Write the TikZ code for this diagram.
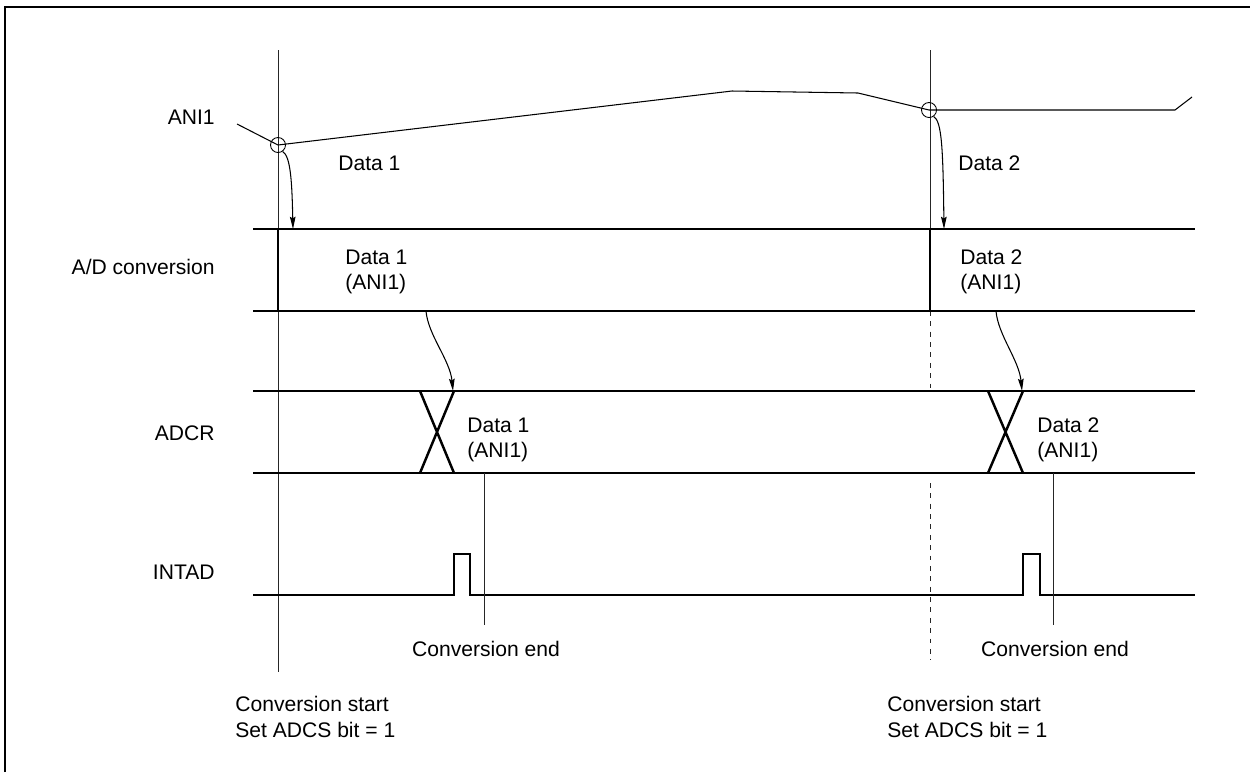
\documentclass[tikz,border=0pt]{standalone}
\usepackage{fontspec}
\setmainfont{Liberation Sans}
\usetikzlibrary{arrows.meta, positioning}

\begin{document}
\begin{tikzpicture}[x=0.02cm, y=-0.02cm,
    lbl/.style={anchor=base east, inner sep=0pt, font=\fontsize{12}{14.5}\selectfont},
    txt/.style={anchor=west, align=left, inner sep=0pt, font=\fontsize{12}{14.5}\selectfont},
    bus/.style={line width=1.4pt},
    guide/.style={line width=0.5pt, black!85},
    smp/.style={circle, draw, line width=0.5pt, minimum size=0.3cm, inner sep=0pt},
    flow/.style={line width=0.6pt, -{Stealth[length=7pt, width=3.2pt, inset=1pt]}}
]
  \useasboundingbox (0,0) rectangle (1250,772);
  \draw[line width=1.1pt] (5,772) -- (5,7) -- (1250,7);

  % signal names
  \node[lbl] (ani) at (215,124) {ANI1};
  \node[lbl] (adc) at (215,274) {A/D conversion};
  \node[lbl] (adcr) at (215,440) {ADCR};
  \node[lbl] (intad) at (215,579) {INTAD};

  % start of conversion
  \draw[guide] (278,50) -- (278,672);
  \draw[guide] (930,50) -- (930,311);
  \draw[guide, dash pattern=on 2.8pt off 3.1pt] (930,311) -- (930,391);
  \draw[guide, dash pattern=on 2.8pt off 3.1pt] (930,483) -- (930,660);

  % analog input
  \coordinate (p1) at (278,145);
  \coordinate (p2) at (929,110);
  \draw[line width=0.6pt] (237,124) -- (p1) -- (732,91) -- (858,93) -- (p2)
       -- (1175,110) -- (1192,97);
  \node[smp] (s1) at (p1) {};
  \node[smp] (s2) at (p2) {};
  \node[txt, anchor=base west] (in1) at (338,170) {Data 1};
  \node[txt, anchor=base west] (in2) at (958,170) {Data 2};

  % A/D conversion
  \draw[bus] (253,229) -- (1195,229);
  \draw[bus] (253,311) -- (1195,311);
  \draw[bus] (278,229) -- (278,311);
  \draw[bus] (930,229) -- (930,311);
  \node[txt] (cv1) at (345,272) {Data 1\\(ANI1)};
  \node[txt] (cv2) at (960,272) {Data 2\\(ANI1)};
  \coordinate (a1) at (293,229);
  \coordinate (a2) at (944,229);
  \draw[flow] (s1.-55) .. controls (291,156) and (292,185) .. (a1);
  \draw[flow] (s2.-55) .. controls (942,121) and (943,150) .. (a2);

  % ADCR
  \draw[bus] (253,391) -- (1195,391);
  \draw[bus] (253,473) -- (1195,473);
  \draw[bus] (420,391) -- (454,473) (454,391) -- (420,473);
  \draw[bus] (988,391) -- (1023,473) (1023,391) -- (988,473);
  \node[txt] (rg1) at (467,440) {Data 1\\(ANI1)};
  \node[txt] (rg2) at (1037,440) {Data 2\\(ANI1)};
  \coordinate (b1) at (426,311);
  \coordinate (x1) at (453,391);
  \coordinate (b2) at (996,311);
  \coordinate (x2) at (1022,391);
  \draw[flow] (b1) .. controls (428,335) and (450,360) .. (x1);
  \draw[flow] (b2) .. controls (998,335) and (1019,360) .. (x2);

  % INTAD
  \draw[bus] (253,595) -- (454,595) -- (454,554) -- (470,554) -- (470,595)
       -- (1023,595) -- (1023,554) -- (1040,554) -- (1040,595) -- (1195,595);
  \draw[guide] (484,473) -- (484,625);
  \draw[guide] (1053,473) -- (1053,625);
  \node[txt, anchor=base] (e1) at (486,656) {Conversion end};
  \node[txt, anchor=base] (e2) at (1055,656) {Conversion end};

  \node[txt] (st1) at (235,717) {Conversion start\\Set ADCS bit = 1};
  \node[txt] (st2) at (887,717) {Conversion start\\Set ADCS bit = 1};
\end{tikzpicture}
\end{document}
